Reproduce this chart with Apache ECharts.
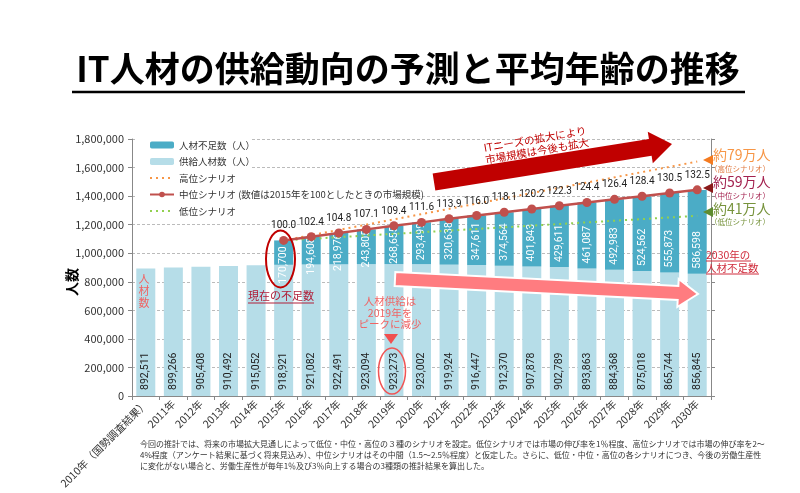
<!DOCTYPE html>
<html><head><meta charset="utf-8">
<script src="https://cdn.jsdelivr.net/npm/echarts@6/dist/echarts.min.js"></script>
<style>html,body{margin:0;padding:0;background:#fff}#c{width:800px;height:493px}</style>
</head><body><div id="c"></div>
<script>
const categories = ['2010年（国勢調査結果）','2011年','2012年','2013年','2014年','2015年','2016年','2017年','2018年','2019年','2020年','2021年','2022年','2023年','2024年','2025年','2026年','2027年','2028年','2029年','2030年'];
const supply = [892511,899266,905408,910492,915052,918921,921082,922491,923094,923273,923002,919924,916447,912370,907878,902789,893863,884368,875018,865744,856845];
const shortage = [null,null,null,null,null,170700,194608,218976,243805,268655,293499,320638,347611,374564,401843,429611,461087,492983,524562,555873,586598];
const midScenario = [null,null,null,null,null,100.0,102.4,104.8,107.1,109.4,111.6,113.9,116.0,118.1,120.2,122.3,124.4,126.4,128.4,130.5,132.5];
const highScenario = [null,null,null,null,null,1089621,null,null,null,null,null,null,null,null,null,null,null,null,null,null,1642000];
const lowScenario = [null,null,null,null,null,1089621,null,null,null,null,null,null,null,null,null,null,null,null,null,null,1262000];
const seriesNames = ['人材不足数（人）','供給人材数（人）','高位シナリオ','中位シナリオ (数値は2015年を100としたときの市場規模)','低位シナリオ'];
const footnote = '今回の推計では、将来の市場拡大見通しによって低位・中位・高位の３種のシナリオを設定。低位シナリオでは市場の伸び率を1％程度、高位シナリオでは市場の伸び率を2～\n4%程度（アンケート結果に基づく将来見込み）、中位シナリオはその中間（1.5～2.5％程度）と仮定した。さらに、低位・中位・高位の各シナリオにつき、今後の労働生産性\nに変化がない場合と、労働生産性が毎年1％及び3％向上する場合の3種類の推計結果を算出した。';

const F = '"Noto Sans CJK JP","Noto Sans",sans-serif';
const N = 'Roboto,"Noto Sans",sans-serif';
const fmt = v => Number(v).toLocaleString('en-US');

function arrow(x1,y1,x2,y2,sw,hl,hw){
  const dx=x2-x1, dy=y2-y1, L=Math.hypot(dx,dy), ux=dx/L, uy=dy/L, nx=-uy, ny=ux;
  const bx=x2-ux*hl, by=y2-uy*hl;
  return [[x1+nx*sw,y1+ny*sw],[bx+nx*sw,by+ny*sw],[bx+nx*hw,by+ny*hw],[x2,y2],[bx-nx*hw,by-ny*hw],[bx-nx*sw,by-ny*sw],[x1-nx*sw,y1-ny*sw]];
}
function txt(x,y,text,size,fill,opts){
  return Object.assign({type:'text', x:x, y:y, z:20, style:Object.assign({text:text, font:size+'px '+F, fill:fill, align:'center', verticalAlign:'middle'}, (opts||{}).style||{})}, (opts||{}).el||{});
}
function uline(x1,x2,y,color){
  return {type:'line', z:20, shape:{x1:x1,y1:y,x2:x2,y2:y}, style:{stroke:color, lineWidth:1}};
}

// label placement for the shortage segments: short segments let their label run down into the supply bar
const PX_PER_UNIT = 257/1800000;
const shortageData = shortage.map((v,i)=>{
  if (v == null) return v;
  const h = v*PX_PER_UNIT;
  const d = i===5 ? -19 : Math.min(5, h-38);
  return {value:v, label:{distance:d}};
});

const chart = echarts.init(document.getElementById('c'), null, {renderer:'canvas'});
const rightMax = 1800000/1089621*100;
chart.setOption({
  animation:false,
  textStyle:{fontFamily:F},
  grid:{left:132, right:89, top:139, bottom:97},
  legend:{
    data:[
      {name:seriesNames[0]},
      {name:seriesNames[1]},
      {name:seriesNames[2], itemStyle:{opacity:0}},
      {name:seriesNames[3]},
      {name:seriesNames[4], itemStyle:{opacity:0}}
    ],
    orient:'vertical', left:144, top:134, itemWidth:24, itemHeight:7, itemGap:4.5,
    textStyle:{fontSize:9.5, color:'#333', fontFamily:F, lineHeight:12}, z:10
  },
  xAxis:{
    type:'category', data:categories,
    axisLine:{lineStyle:{color:'#888'}},
    axisTick:{show:true, alignWithLabel:false, length:4, lineStyle:{color:'#888'}},
    axisLabel:{rotate:45, interval:0, fontSize:10.5, color:'#333', margin:6, fontFamily:F}
  },
  yAxis:[{
    type:'value', min:0, max:1800000, interval:200000,
    axisLine:{show:true, lineStyle:{color:'#888'}},
    axisTick:{show:true, length:4, lineStyle:{color:'#888'}},
    axisLabel:{formatter:fmt, fontSize:11, color:'#333', margin:8, fontFamily:F},
    splitLine:{lineStyle:{color:'#bbb', type:[3,2]}}
  },{
    type:'value', min:0, max:rightMax, interval:rightMax/9, position:'right',
    axisLine:{show:true, lineStyle:{color:'#888'}},
    axisTick:{show:true, length:4, lineStyle:{color:'#888'}},
    axisLabel:{show:false}, splitLine:{show:false}
  }],
  series:[
    {name:seriesNames[1], type:'bar', stack:'a', data:supply, barWidth:19,
     itemStyle:{color:'#b6dde8'},
     label:{show:true, position:'insideBottom', distance:6, rotate:90, align:'left', verticalAlign:'middle', overflow:'none',
            formatter:p=>fmt(p.value), fontSize:10.5, color:'#222', fontFamily:N}},
    {name:seriesNames[0], type:'bar', stack:'a', data:shortageData, barWidth:19,
     itemStyle:{color:'#4bacc6'},
     label:{show:true, position:'insideBottom', distance:5, rotate:90, align:'left', verticalAlign:'middle', overflow:'none',
            formatter:p=>(p.value==null?'':fmt(p.value)), fontSize:10.5, color:'#ffffff', fontFamily:N}},
    {name:seriesNames[2], type:'line', data:highScenario, connectNulls:true, symbol:'none', z:5,
     lineStyle:{color:'#f79646', width:2, type:[2,4]}, itemStyle:{color:'#f79646'}},
    {name:seriesNames[4], type:'line', data:lowScenario, connectNulls:true, symbol:'none', z:5,
     lineStyle:{color:'#92d050', width:2, type:[2,4]}, itemStyle:{color:'#92d050'}},
    {name:seriesNames[3], type:'line', yAxisIndex:1, data:midScenario, symbol:'circle', symbolSize:9, z:6,
     lineStyle:{color:'#c0504d', width:2.5}, itemStyle:{color:'#c0504d'},
     label:{show:true, position:'top', distance:5, formatter:p=>Number(p.value).toFixed(1), fontSize:10, color:'#222', fontFamily:N}}
  ],
  graphic:[
    {type:'rect', z:1, shape:{x:137, y:131, width:115, height:52}, style:{fill:'#fff'}},
    {type:'rect', z:1, shape:{x:137, y:183, width:265, height:30}, style:{fill:'#fff'}},
    // title
    txt(408, 69, 'IT人材の供給動向の予測と平均年齢の推移', 35, '#000', {style:{font:'bold 35px '+F}}),
    {type:'line', z:20, shape:{x1:72,y1:92,x2:745,y2:92}, style:{stroke:'#000', lineWidth:2.5}},
    // y axis name
    txt(72, 282, '人数', 14, '#000', {style:{font:'bold 14px '+F}, el:{rotation:Math.PI/2}}),
    // big red arrow
    {type:'polygon', z:8, shape:{points:arrow(434,182,672,144,8.5,22,16)}, style:{fill:'#c00000'}},
    txt(536, 145, 'ITニーズの拡大により\n市場規模は今後も拡大', 10.5, '#c00000', {style:{lineHeight:12}, el:{rotation:0.17}}),
    // pink arrow
    {type:'polygon', z:8, shape:{points:arrow(395,279,698,294,7,20,14)}, style:{fill:'#ff7c80', stroke:'#fff', lineWidth:2}},
    // 2015 ellipse
    {type:'ellipse', z:9, shape:{cx:280.5, cy:259, rx:14.5, ry:28.5}, style:{fill:null, stroke:'#c00000', lineWidth:2}},
    txt(281, 296, '現在の不足数', 11, '#b0203a'),
    uline(248, 314, 303, '#b0203a'),
    // first bar vertical text
    txt(144, 291, '人\n材\n数', 11, '#f06464', {style:{lineHeight:12}}),
    // 2019 annotation
    txt(390, 313, '人材供給は\n2019年を\nピークに減少', 10.5, '#f06464', {style:{lineHeight:11.5}}),
    {type:'polygon', z:20, shape:{points:[[384,334],[398,334],[391,344]]}, style:{fill:'#f05050'}},
    {type:'ellipse', z:9, shape:{cx:392, cy:371, rx:13.5, ry:23}, style:{fill:null, stroke:'#f05555', lineWidth:1.5}},
    // 2030 shortage
    txt(706, 255, '2030年の', 10.5, '#d02c3c', {style:{align:'left'}}),
    uline(706, 751, 261, '#d02c3c'),
    txt(706, 268, '人材不足数', 10.5, '#d02c3c', {style:{align:'left'}}),
    uline(706, 759, 274, '#d02c3c'),
    // right side labels
    {type:'polygon', z:20, shape:{points:[[703,160],[713,155],[713,165]]}, style:{fill:'#f47b20'}},
    txt(713, 155, '約79万人', 14, '#f79646', {style:{align:'left'}}),
    txt(740, 169, '（高位シナリオ）', 7.5, '#e07a40'),
    {type:'polygon', z:20, shape:{points:[[703,188],[713,183],[713,193]]}, style:{fill:'#8b1a1a'}},
    txt(713, 182, '約59万人', 14, '#a3224f', {style:{align:'left'}}),
    txt(740, 196, '（中位シナリオ）', 7.5, '#a3224f'),
    {type:'polygon', z:20, shape:{points:[[703,212],[713,207],[713,217]]}, style:{fill:'#5e8c31'}},
    txt(713, 209, '約41万人', 14, '#77933c', {style:{align:'left'}}),
    txt(740, 222, '（低位シナリオ）', 7.5, '#77933c'),
    // footnote
    txt(140, 455, footnote, 8, '#333', {style:{align:'left', lineHeight:11}})
  ]
});
</script>
</body></html>
